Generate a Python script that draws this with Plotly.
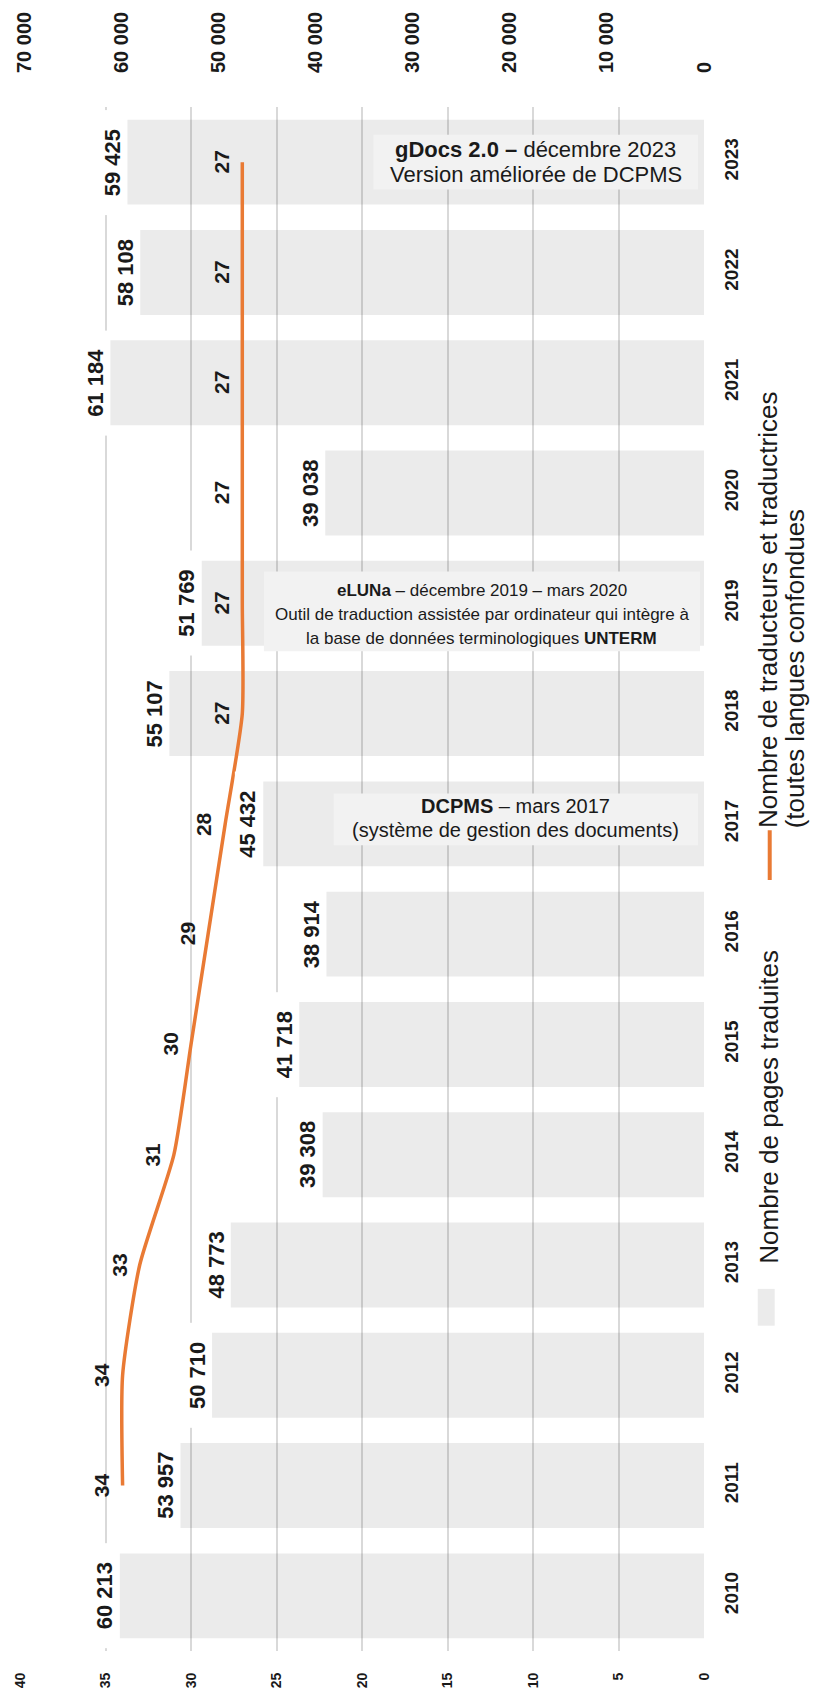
import plotly.graph_objects as go

# --- data -------------------------------------------------------------
years = [2010, 2011, 2012, 2013, 2014, 2015, 2016, 2017, 2018, 2019, 2020, 2021, 2022, 2023]
pages = [60213, 53957, 50710, 48773, 39308, 41718, 38914, 45432, 55107, 51769, 39038, 61184, 58108, 59425]
trad_years = [2011, 2012, 2013, 2014, 2015, 2016, 2017, 2018, 2019, 2020, 2021, 2022, 2023]
translators = [34, 34, 33, 31, 30, 29, 28, 27, 27, 27, 27, 27, 27]
pages_ticks = [0, 10000, 20000, 30000, 40000, 50000, 60000, 70000]
trad_ticks = [0, 5, 10, 15, 20, 25, 30, 35, 40]

# --- style ------------------------------------------------------------
FONT = "Arial, 'Liberation Sans', sans-serif"
INK = "#1a1a1a"
ORANGE = "#E97A34"
BAR = "rgba(0,0,0,0.078)"
BOX = "#F2F2F2"
GRID = "#D9D9D9"

W, H = 815, 1700
L, R, T, B = 17, 704, 105, 1657


def px(x):
    return (x - L) / (R - L)


def py(y):
    return (B - y) / (B - T)


def fmt(v):
    return f"{v:,}".replace(",", " ")


ycat = [str(y) for y in years]
yidx = {y: i for i, y in enumerate(years)}

fig = go.Figure()

fig.add_trace(go.Bar(
    x=pages, y=ycat, orientation="h", xaxis="x", yaxis="y",
    marker=dict(color=BAR, line=dict(width=0)), showlegend=False,
    hoverinfo="skip",
))

fig.add_trace(go.Scatter(
    x=translators, y=[str(y) for y in trad_years], xaxis="x2", yaxis="y",
    mode="lines", line=dict(color=ORANGE, width=3.5, shape="spline", smoothing=0.6),
    showlegend=False, hoverinfo="skip",
))

annotations = []

# value labels for pages
for y, v in zip(years, pages):
    pad = "\u00a0" * 3
    annotations.append(dict(
        x=v, y=yidx[y], xref="x", yref="y", text=f"<b>{pad}{fmt(v)}{pad}</b>",
        textangle=-90, showarrow=False, xanchor="center", yanchor="middle",
        xshift=-15, bgcolor="white", borderpad=0,
        font=dict(family=FONT, size=22, color=INK),
    ))

# value labels for translators
for y, v in zip(trad_years, translators):
    annotations.append(dict(
        x=v, y=yidx[y], xref="x2", yref="y", text=f"<b>{v}</b>",
        textangle=-90, showarrow=False, xanchor="center", yanchor="middle",
        xshift=-21, font=dict(family=FONT, size=21, color=INK),
    ))

# call-out boxes
shapes = []
boxes = [
    dict(x0=372, x1=698, y0=133, y1=188, size=22, cx=535, lines=[
        (148, "<b>gDocs 2.0 –</b> décembre 2023"),
        (173, "Version améliorée de DCPMS"),
    ]),
    dict(x0=262, x1=700, y0=572, y1=652, size=17, cx=481, lines=[
        (591, "<b>eLUNa</b> – décembre 2019 – mars 2020"),
        (615, "Outil de traduction assistée par ordinateur qui intègre à"),
        (639, "la base de données terminologiques <b>UNTERM</b>"),
    ]),
    dict(x0=332, x1=698, y0=795, y1=847, size=20, cx=515, lines=[
        (808, "<b>DCPMS</b> – mars 2017"),
        (832, "(système de gestion des documents)"),
    ]),
]
for b in boxes:
    shapes.append(dict(
        type="rect", xref="paper", yref="paper",
        x0=px(b["x0"]), x1=px(b["x1"]), y0=py(b["y1"]), y1=py(b["y0"]),
        fillcolor=BOX, line=dict(width=0), layer="above",
    ))
    for yy, txt in b["lines"]:
        annotations.append(dict(
            x=px(b["cx"]), y=py(yy), xref="paper", yref="paper", text=txt,
            showarrow=False, xanchor="center", yanchor="middle",
            font=dict(family=FONT, size=b["size"], color=INK),
        ))

# legend, drawn rotated along the right edge
shapes.append(dict(
    type="rect", xref="paper", yref="paper",
    x0=px(758), x1=px(775), y0=py(1330), y1=py(1293),
    fillcolor="#EBEBEB", line=dict(width=0),
))
shapes.append(dict(
    type="line", xref="paper", yref="paper",
    x0=px(770), x1=px(770), y0=py(882), y1=py(832),
    line=dict(color=ORANGE, width=4),
))
legend_texts = [
    (769, 1270, "Nombre de pages traduites"),
    (769, 832, "Nombre de traducteurs et traductrices"),
    (795, 832, "(toutes langues confondues"),
]
for x, y, txt in legend_texts:
    annotations.append(dict(
        x=px(x), y=py(y), xref="paper", yref="paper", text=txt,
        textangle=-90, showarrow=False, xanchor="center", yanchor="bottom",
        font=dict(family=FONT, size=26, color=INK),
    ))

fig.update_layout(
    width=W, height=H,
    margin=dict(l=L, r=W - R, t=T, b=H - B, pad=0),
    paper_bgcolor="white", plot_bgcolor="white",
    bargap=0.23,
    showlegend=False,
    xaxis=dict(
        side="top", range=[70500, 0], showgrid=False, zeroline=False,
        showline=False, ticks="", tickvals=pages_ticks,
        ticktext=[fmt(v) for v in pages_ticks], tickangle=-90,
        tickfont=dict(family=FONT, size=20, color=INK, weight="bold"),
        ticklabelstandoff=33,
    ),
    xaxis2=dict(
        overlaying="x", side="bottom", range=[40, 0], showgrid=True,
        gridcolor=GRID, gridwidth=1.5, zeroline=False, showline=False,
        ticks="", tickvals=trad_ticks, tickangle=-90,
        tickfont=dict(family=FONT, size=14, color=INK, weight="bold"),
        ticklabelstandoff=18,
    ),
    yaxis=dict(
        type="category", categoryorder="array", categoryarray=ycat,
        range=[-0.5, len(years) - 0.5],
        side="right", showgrid=False, zeroline=False, showline=False,
        ticks="", tickangle=-90, ticklabelstandoff=14,
        tickfont=dict(family=FONT, size=19, color=INK, weight="bold"),
    ),
    shapes=shapes,
    annotations=annotations,
)

fig.write_html("out.html")
